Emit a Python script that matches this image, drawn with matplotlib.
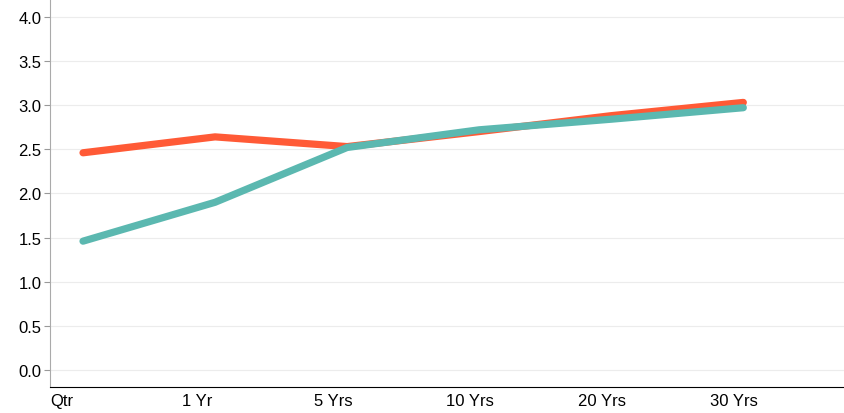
import matplotlib.pyplot as plt

periods = ["Qtr", "1 Yr", "5 Yrs", "10 Yrs", "20 Yrs", "30 Yrs"]
orange_vals = [2.46, 2.64, 2.53, 2.70, 2.88, 3.03]
teal_vals = [1.46, 1.90, 2.52, 2.72, 2.84, 2.97]
yticks = [0.0, 0.5, 1.0, 1.5, 2.0, 2.5, 3.0, 3.5, 4.0]

fig = plt.figure(figsize=(8.45, 4.14), dpi=100)
ax = fig.add_axes([50 / 845, 26 / 414, 795 / 845, 388 / 414])

x = list(range(len(periods)))
ax.plot(x, orange_vals, color="#FF5A36", lw=5.2, solid_capstyle="round", zorder=3)
ax.plot(x, teal_vals, color="#5BB8B0", lw=5.2, solid_capstyle="round", zorder=4)

ax.set_xlim(-0.25, 5.77)
ax.set_ylim(-0.19, 4.2)
ax.set_yticks(yticks)
ax.set_yticklabels([f"{v:.1f}" for v in yticks], fontsize=12, fontfamily="Liberation Sans")
ax.yaxis.grid(True, color="#ececec", lw=0.8)
ax.set_axisbelow(True)

ax.set_xticks([i - 0.25 for i in x])
ax.set_xticklabels(periods, fontsize=12, fontfamily="Liberation Sans", ha="left")
ax.tick_params(axis="x", length=0, pad=4)
ax.tick_params(axis="y", length=4, color="#999999", pad=2)

for s in ["top", "right"]:
    ax.spines[s].set_visible(False)
ax.spines["left"].set_color("#aaaaaa")
ax.spines["bottom"].set_color("#000000")

fig.savefig("out.png", dpi=100)
